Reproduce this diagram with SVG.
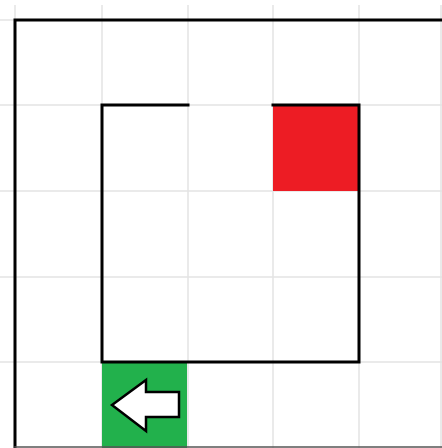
<svg xmlns="http://www.w3.org/2000/svg" width="442" height="448" viewBox="0 0 442 448">
<style>
.grid{stroke:#e4e4e4;stroke-width:1.5;fill:none}
.wall{stroke:#000;stroke-width:3;fill:none;stroke-linecap:square}
</style>
<rect x="0" y="0" width="442" height="448" fill="#fff"/>
<g id="grid" class="grid">
<path d="M15,5V448M102,5V448M188,5V448M273,5V448M359,5V448M441,5V448"/>
<path d="M0,20H442M0,105H442M0,191H442M0,277H442M0,362H442"/>
</g>
<g id="goal"><rect x="273" y="105" width="86" height="86" fill="#ED1C24"/></g>
<g id="start"><rect x="102" y="362" width="85" height="86" fill="#22B14C"/>
<polygon points="112,405 146,380 146,392 179,392 179,417 146,417 146,431" fill="#fff" stroke="#000" stroke-width="2.5" stroke-linejoin="miter"/></g>
<g id="walls" class="wall">
<path d="M15,448V20H442"/>
<path d="M15,447H442" stroke="#555" stroke-width="1.5"/>
<path d="M188,105H102V362H359V105H273"/>
</g>
</svg>
